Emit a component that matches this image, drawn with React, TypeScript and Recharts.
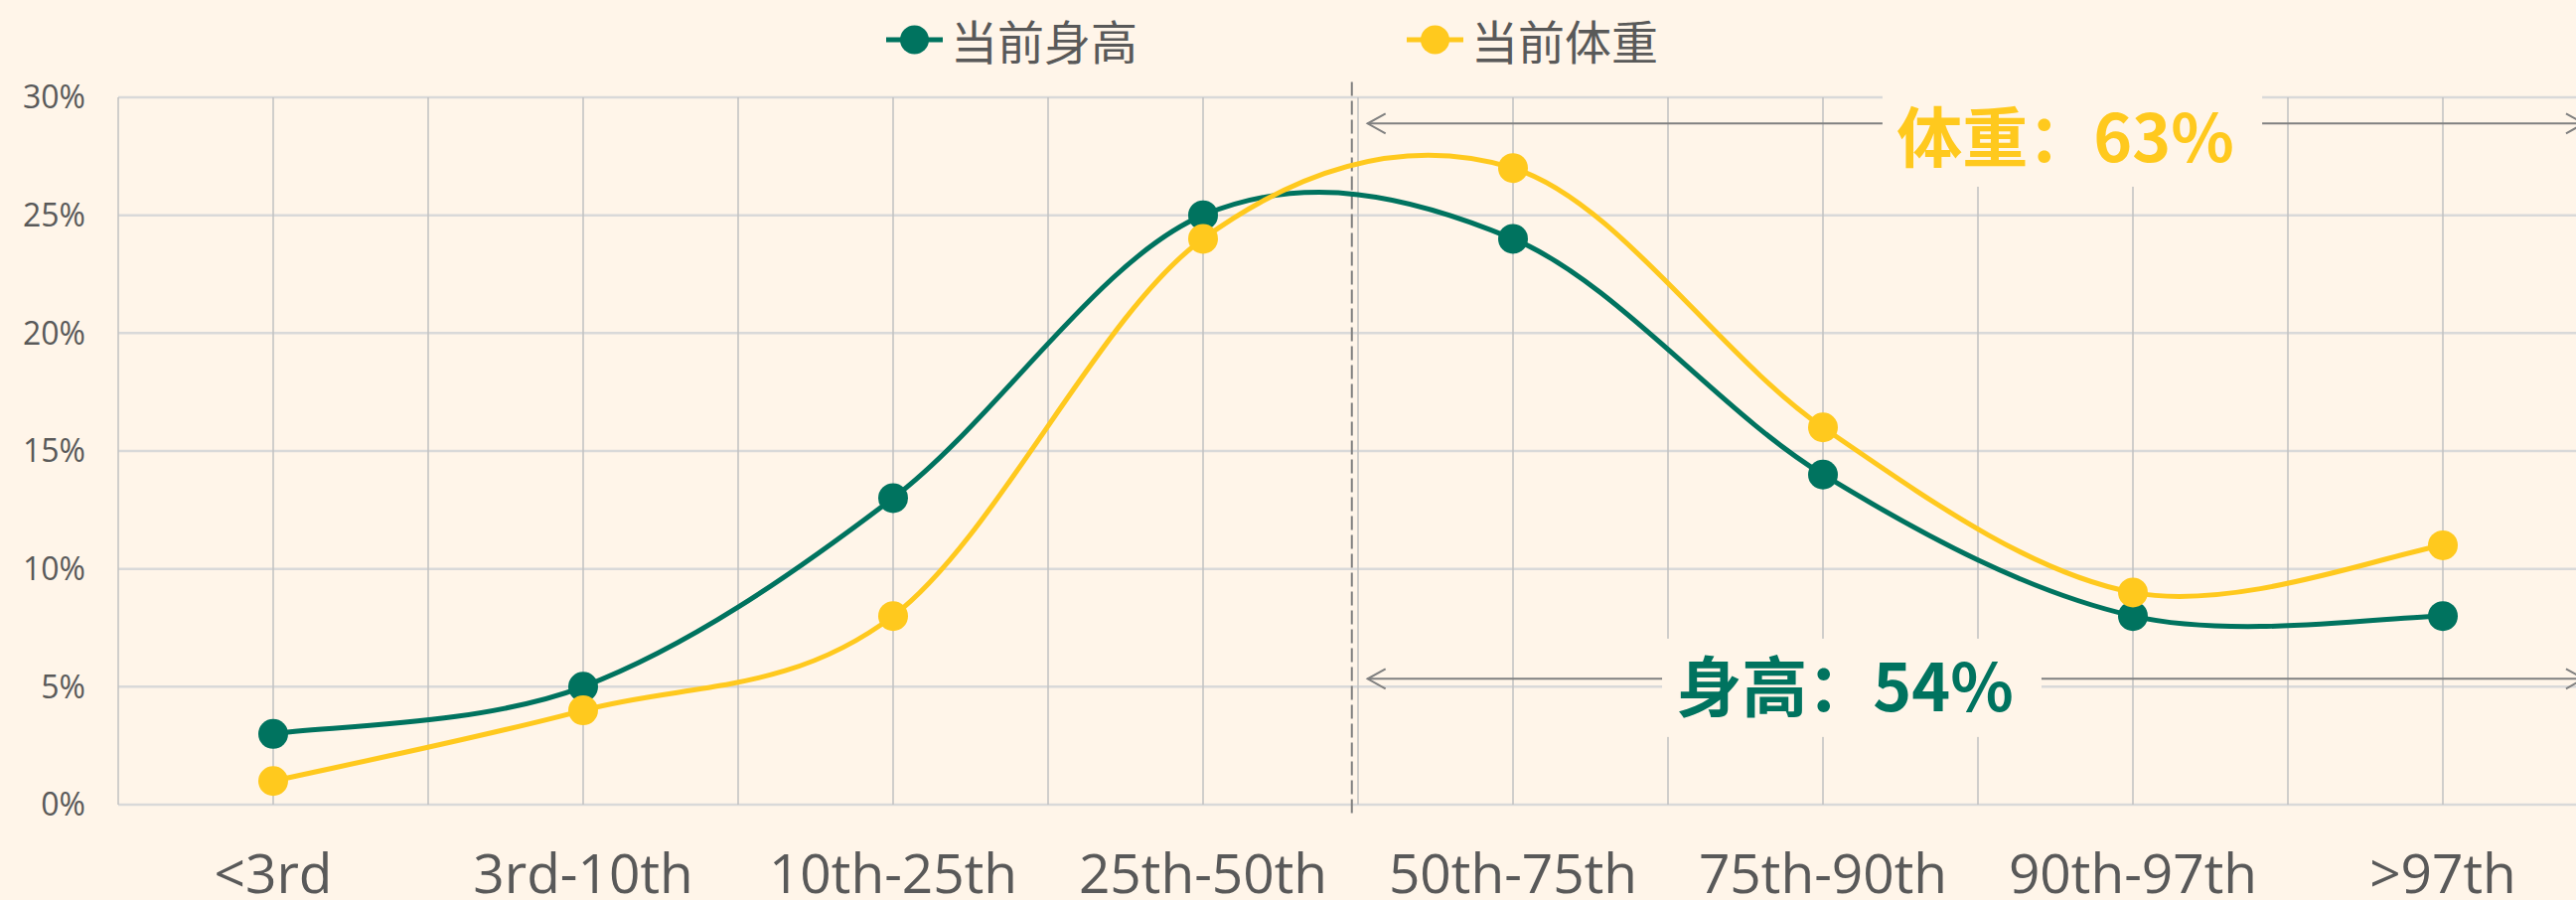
import React from "react";
import { CartesianGrid, Legend, Line, LineChart, ReferenceLine, XAxis, YAxis } from "recharts";

const CATEGORIES = ["<3rd", "3rd-10th", "10th-25th", "25th-50th", "50th-75th", "75th-90th", "90th-97th", ">97th"];
const HEIGHT = [3, 5, 13, 25, 24, 14, 8, 8];
const WEIGHT = [1, 4, 8, 24, 27, 16, 9, 11];
const Y_TICKS = [0, 5, 10, 15, 20, 25, 30];
const SERIES_ORDER = ["height", "weight"];

const BG = "#FFF5E9";
const GREEN = "#00735F";
const YELLOW = "#FFC91E";
const TEXT = "#595959";

// 中位数以上（50th 及以后）的占比
const aboveMedian = (arr: number[]) => arr.slice(4).reduce((s, v) => s + v, 0);

const rows = CATEGORIES.map((c, i) => ({ idx: i, name: c, height: HEIGHT[i], weight: WEIGHT[i] }));
const xTicks = CATEGORIES.flatMap((_, i) => [i - 0.5, i]).concat(CATEGORIES.length - 0.5);

// Excel 风格的平滑曲线（Catmull-Rom）
function excelSmooth(context: any) {
  let pts: number[][] = [];
  return {
    areaStart() {},
    areaEnd() {},
    lineStart() {
      pts = [];
    },
    point(x: number, y: number) {
      pts.push([+x, +y]);
    },
    lineEnd() {
      const n = pts.length;
      if (!n) return;
      context.moveTo(pts[0][0], pts[0][1]);
      for (let i = 0; i < n - 1; i++) {
        const p0 = pts[Math.max(0, i - 1)];
        const p1 = pts[i];
        const p2 = pts[i + 1];
        const p3 = pts[Math.min(n - 1, i + 2)];
        context.bezierCurveTo(
          p1[0] + (p2[0] - p0[0]) / 6,
          p1[1] + (p2[1] - p0[1]) / 6,
          p2[0] - (p3[0] - p1[0]) / 6,
          p2[1] - (p3[1] - p1[1]) / 6,
          p2[0],
          p2[1]
        );
      }
    },
  };
}

function DoubleArrow(p: any) {
  const { x1, y1, x2, y2 } = p;
  const l = Math.min(x1, x2);
  const r = Math.max(x1, x2);
  return (
    <g stroke="#808080" strokeWidth={2} fill="none">
      <line x1={l} y1={y1} x2={r} y2={y2} />
      <polyline points={`${l + 18},${y1 - 10} ${l},${y1} ${l + 18},${y1 + 10}`} />
      <polyline points={`${r - 18},${y2 - 10} ${r},${y2} ${r - 18},${y2 + 10}`} />
    </g>
  );
}

// 带底色的标注框：遮住网格线和箭头
function AnnotationBox(p: any) {
  const { x1, y1, x2, y2, text, color } = p;
  const x = Math.min(x1, x2);
  const y = Math.min(y1, y2);
  const w = Math.abs(x2 - x1);
  const h = Math.abs(y2 - y1);
  return (
    <g>
      <rect x={x} y={y} width={w} height={h} fill={BG} stroke="none" />
      <text
        x={x + w / 2 - 7}
        y={y + h / 2}
        dy="0.36em"
        textAnchor="middle"
        fill={color}
        fontSize={66}
        fontWeight={700}
        fontFamily="'Noto Sans CJK SC', sans-serif"
      >
        {text}
      </text>
    </g>
  );
}

function LegendContent({ payload }: any) {
  const items = [...(payload ?? [])].sort(
    (a: any, b: any) => SERIES_ORDER.indexOf(a.dataKey) - SERIES_ORDER.indexOf(b.dataKey)
  );
  return (
    <div style={{ display: "flex", alignItems: "center", height: 60 }}>
      {items.map((e: any, i: number) => (
        <div key={e.value} style={{ display: "flex", alignItems: "center", marginLeft: i ? 271 : 0 }}>
          <svg width={57} height={30}>
            <line x1={0} y1={15} x2={57} y2={15} stroke={e.color} strokeWidth={5} />
            <circle cx={28.5} cy={15} r={14.5} fill={e.color} />
          </svg>
          <span
            style={{
              marginLeft: 8,
              fontSize: 47,
              lineHeight: "60px",
              color: TEXT,
              fontFamily: "'Noto Sans CJK SC', sans-serif",
            }}
          >
            {e.value}
          </span>
        </div>
      ))}
    </div>
  );
}

export default function App() {
  return (
    <div
      style={{
        position: "fixed",
        left: 0,
        top: 0,
        width: 2593,
        height: 906,
        overflow: "hidden",
        background: BG,
        fontFamily: "'Open Sans', 'Noto Sans CJK SC', sans-serif",
      }}
    >
      <LineChart width={2625} height={906} data={rows} margin={{ top: 98, right: 10, bottom: 0, left: 0 }}>
        <CartesianGrid vertical={false} stroke="#D9D9D9" strokeWidth={2.5} />
        <CartesianGrid horizontal={false} stroke="#C0C0C0" strokeWidth={1.5} />
        <XAxis
          dataKey="idx"
          type="number"
          domain={[-0.5, CATEGORIES.length - 0.5]}
          ticks={xTicks}
          interval={0}
          height={96}
          axisLine={false}
          tickLine={false}
          tickSize={0}
          tickMargin={50}
          tick={{ fontSize: 55, fill: TEXT }}
          tickFormatter={(v: number) => (Number.isInteger(v) ? CATEGORIES[v] : "")}
        />
        <YAxis
          type="number"
          domain={[0, 30]}
          ticks={Y_TICKS}
          width={119}
          axisLine={false}
          tickLine={false}
          tickSize={0}
          tickMargin={33}
          tick={{ fontSize: 32, fill: TEXT }}
          tickFormatter={(v: number) => `${v}%`}
        />
        <Legend
          layout="horizontal"
          verticalAlign="middle"
          align="center"
          wrapperStyle={{ top: 10, left: 892, width: 900 }}
          content={<LegendContent />}
        />
        <ReferenceLine
          segment={[
            { x: 3.48, y: 30.65 },
            { x: 3.48, y: -0.55 },
          ]}
          ifOverflow="visible"
          stroke="#7F7F7F"
          strokeWidth={2}
          strokeDasharray="14 5"
        />
        <ReferenceLine
          segment={[
            { x: 3.531, y: 28.89 },
            { x: 7.455, y: 28.89 },
          ]}
          ifOverflow="visible"
          shape={DoubleArrow}
        />
        <ReferenceLine
          segment={[
            { x: 3.531, y: 5.34 },
            { x: 7.455, y: 5.34 },
          ]}
          ifOverflow="visible"
          shape={DoubleArrow}
        />
        <ReferenceLine
          segment={[
            { x: 5.192, y: 30.34 },
            { x: 6.417, y: 26.21 },
          ]}
          ifOverflow="visible"
          shape={(p: any) => <AnnotationBox {...p} text={`体重：${aboveMedian(WEIGHT)}%`} color={YELLOW} />}
        />
        <ReferenceLine
          segment={[
            { x: 4.481, y: 7.04 },
            { x: 5.705, y: 2.87 },
          ]}
          ifOverflow="visible"
          shape={(p: any) => <AnnotationBox {...p} text={`身高：${aboveMedian(HEIGHT)}%`} color={GREEN} />}
        />
        <Line
          dataKey="height"
          name="当前身高"
          type={excelSmooth as any}
          stroke={GREEN}
          strokeWidth={5}
          dot={{ r: 15, fill: GREEN, stroke: GREEN, strokeWidth: 0 }}
          activeDot={false}
          isAnimationActive={false}
        />
        <Line
          dataKey="weight"
          name="当前体重"
          type={excelSmooth as any}
          stroke={YELLOW}
          strokeWidth={5}
          dot={{ r: 15, fill: YELLOW, stroke: YELLOW, strokeWidth: 0 }}
          activeDot={false}
          isAnimationActive={false}
        />
      </LineChart>
    </div>
  );
}
